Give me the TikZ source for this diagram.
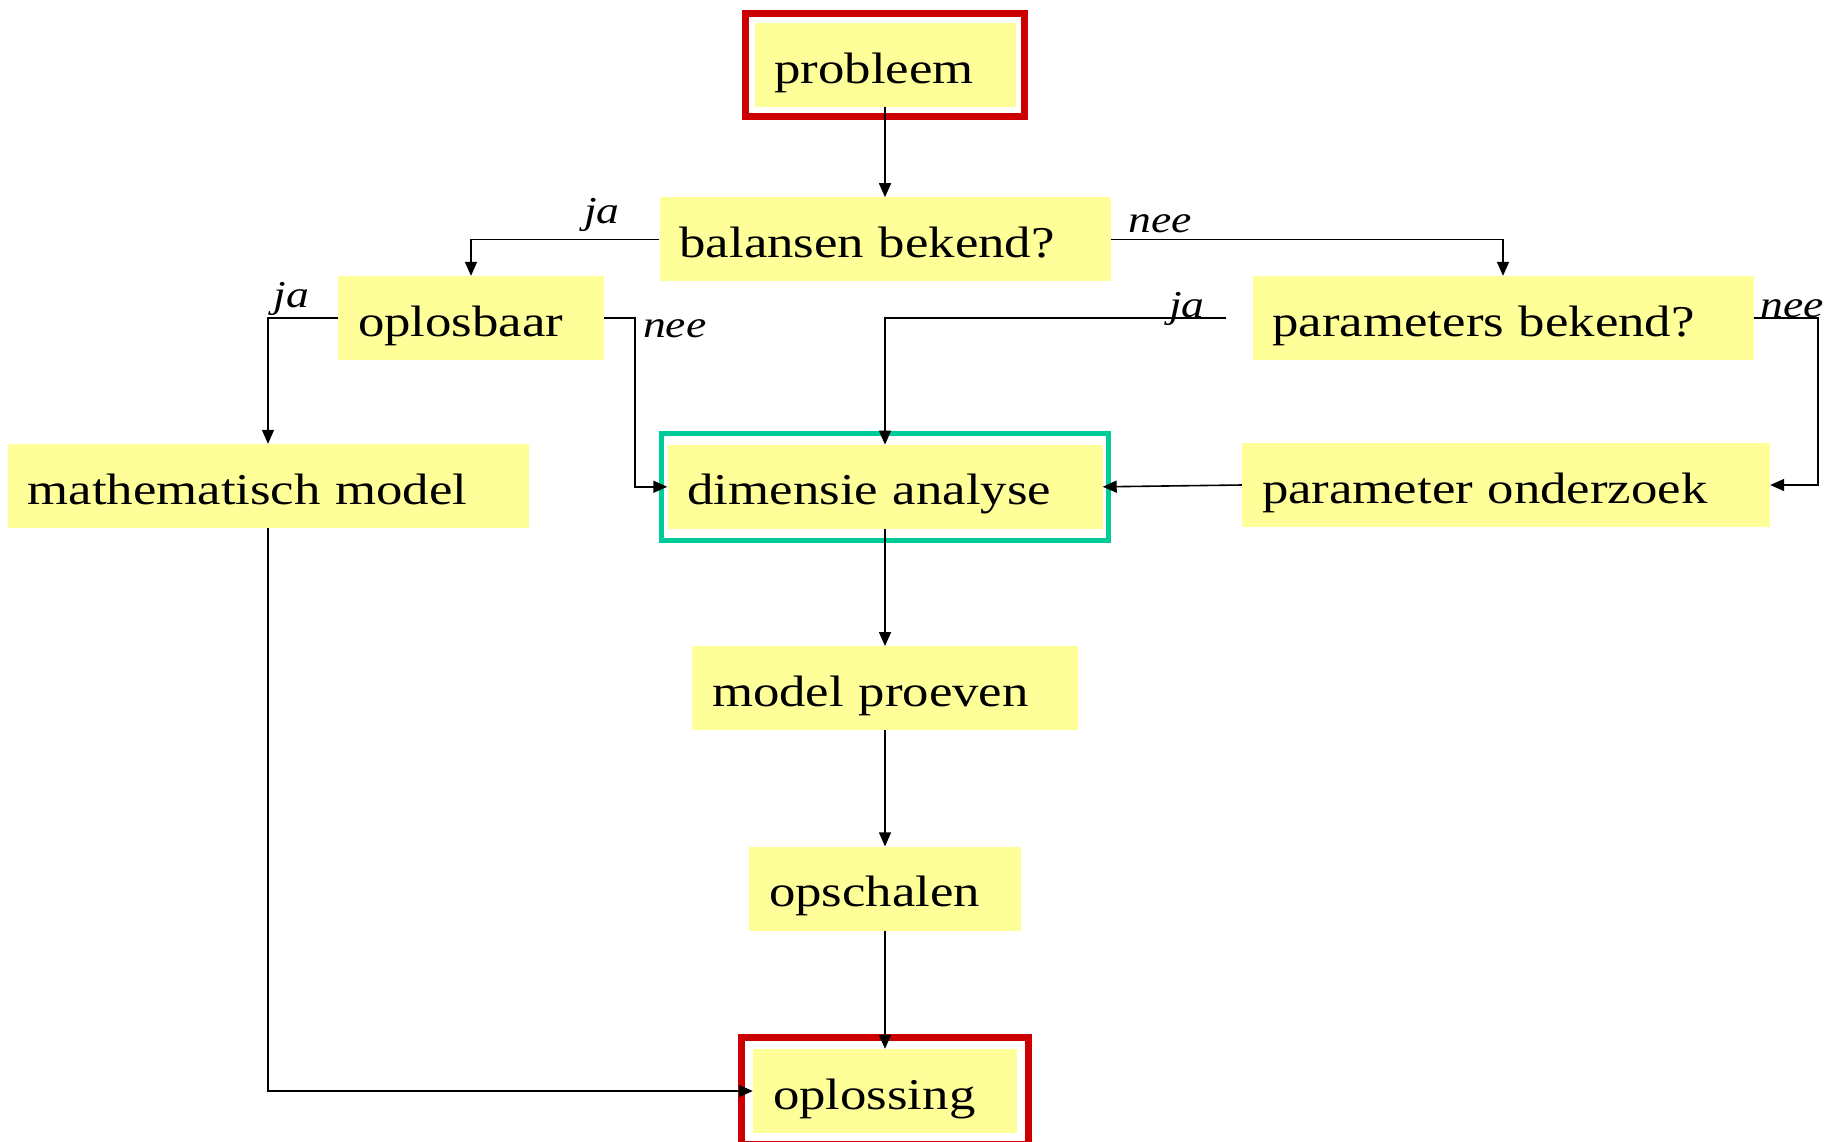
\documentclass[tikz,border=0pt]{standalone}
\usepackage{fontspec}
\setmainfont{Liberation Serif}[FakeStretch=1.2]
\usetikzlibrary{arrows.meta,positioning,fit}
\definecolor{flowYellow}{RGB}{255, 255, 153}
\definecolor{flowRed}{RGB}{204, 0, 0}
\definecolor{flowGreen}{RGB}{0, 204, 153}

\begin{document}
\begin{tikzpicture}[
  x=1pt, y=-1pt,
  state/.style={
    fill=flowYellow,
    inner xsep=20pt,
    inner ysep=0pt,
    minimum height=84pt,
    text height=44pt,
    text depth=8pt,
    align=left,
    font=\fontsize{44}{50}\selectfont
  },
  arrow/.style={-{Triangle[length=14pt,width=12pt]},line width=1.6pt},
  answer/.style={font=\fontsize{38}{40}\selectfont\itshape,inner sep=0pt},
  redframe/.style={draw=flowRed,line width=7pt},
  greenframe/.style={draw=flowGreen,line width=5pt}
]
  \useasboundingbox (0,0) rectangle (1846,1141);

  \node[state,text width=221pt] (probleem) at (885,65) {probleem};
  \node[state,text width=411pt,below=90pt of probleem] (balansen) {balansen bekend?};
  \node[state,text width=395pt,below=163pt of balansen] (dimensie) {dimensie analyse};
  \node[state,text width=346pt,below=117pt of dimensie] (proeven) {model proeven};
  \node[state,text width=232pt,below=116pt of proeven] (opschalen) {opschalen};
  \node[state,text width=224pt,below=118pt of opschalen] (oplossing) {oplossing};

  \node[state,text width=226pt] (oplosbaar) at (471,318) {oplosbaar};
  \node[state,text width=461pt] (parameters) at (1503,318) {parameters bekend?};
  \node[state,text width=481pt] (mathmodel) at (268,486) {mathematisch model};
  \node[state,text width=488pt] (onderzoek) at (1506,485) {parameter onderzoek};

  \node[redframe,fit=(probleem),inner sep=9pt] {};
  \node[redframe,fit=(oplossing),inner sep=11pt] {};
  \node[greenframe,fit=(dimensie),inner xsep=6pt,inner ysep=11pt] {};

  \draw[arrow] (probleem) -- (balansen);
  \draw[arrow] (balansen.west)
    node[answer,anchor=base east,xshift=-39pt,yshift=16pt]{ja} -| (oplosbaar.north);
  \draw[arrow] (balansen.east)
    node[answer,anchor=base west,xshift=17pt,yshift=7pt]{nee} -| (parameters.north);
  \draw[arrow] (oplosbaar.west)
    node[answer,anchor=base east,xshift=-28pt,yshift=11pt]{ja} -| (mathmodel.north);
  \draw[arrow] (oplosbaar.east)
    node[answer,anchor=base west,xshift=38pt,yshift=-19pt]{nee} -- ++(31,0) |- (dimensie.west);
  \draw[arrow,shorten <=26pt] (parameters.west)
    node[answer,anchor=base east,xshift=-47pt,yshift=1pt]{ja} -| (dimensie.north);
  \draw[arrow] (parameters.east)
    node[answer,anchor=base west,xshift=6pt,yshift=1pt]{nee} -- ++(64,0) |- (onderzoek.east);
  \draw[arrow] (onderzoek.west) -- (dimensie.east);
  \draw[arrow] (dimensie) -- (proeven);
  \draw[arrow] (proeven) -- (opschalen);
  \draw[arrow] (opschalen) -- (oplossing);
  \draw[arrow] (mathmodel.south) |- (oplossing.west);
\end{tikzpicture}
\end{document}
